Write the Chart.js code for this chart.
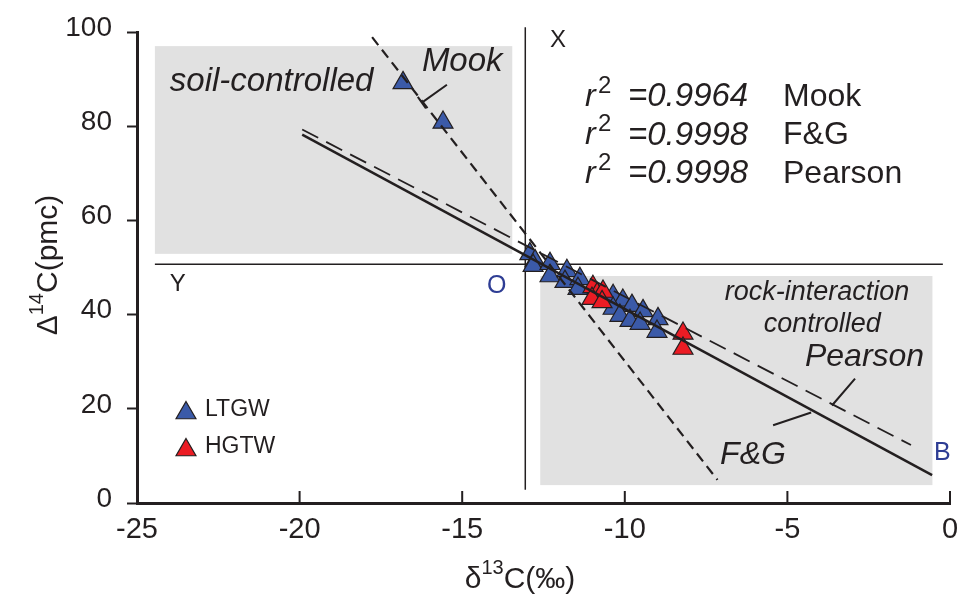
<!DOCTYPE html>
<html>
<head>
<meta charset="utf-8">
<script src="https://cdn.jsdelivr.net/npm/chart.js@4.4.0/dist/chart.umd.min.js"></script>
<style>
  html, body { margin: 0; padding: 0; background: #fff; }
  #wrap { width: 979px; height: 601px; }
</style>
</head>
<body>
<div id="wrap"><canvas id="chart" width="979" height="601"></canvas></div>
<script>
// Ejes
const xTicks = [-25, -20, -15, -10, -5, 0];
const yTicks = [0, 20, 40, 60, 80, 100];

// LTGW (azul)
const ltgwX = [-16.82, -15.59, -12.92, -12.76, -12.82, -12.30, -12.30, -11.78, -11.84, -11.38, -11.44,
               -10.36, -10.06, -10.36, -9.78, -9.44, -10.15, -9.84, -9.53, -8.98, -9.01];
const ltgwY = [89.2, 80.8, 52.9, 51.4, 50.4, 50.8, 48.2, 49.3, 47.0, 47.6, 45.5,
               44.0, 43.0, 41.3, 41.9, 40.8, 39.8, 38.7, 38.1, 39.1, 36.4];

// HGTW (rojo)
const hgtwX = [-10.98, -10.85, -10.67, -11.01, -10.70, -8.21, -8.21];
const hgtwY = [45.9, 44.4, 44.9, 43.4, 42.7, 36.0, 32.8];

// Rectas de los modelos
const mookX = [-17.77, -7.15];
const mookY = [98.9, 4.9];
const fgX = [-19.92, -0.55];
const fgY = [78.2, 5.9];
const pearsonX = [-19.92, -1.2];
const pearsonY = [79.3, 12.3];

// Textos de r2
const r2Values = ['=0.9964', '=0.9998', '=0.9998'];
const r2Models = ['Mook', 'F&G', 'Pearson'];

const INK = '#231f20';
const BLUE = '#3b5aa8';
const RED = '#ec1c24';
const NAVY = '#2e3d94';
const FONT = '"Liberation Sans", Arial, sans-serif';

const toPts = (xs, ys) => xs.map((x, i) => ({ x: x, y: ys[i] }));

function lineDs(xs, ys, dash, width) {
    return {
        type: 'line', data: toPts(xs, ys), borderColor: INK, borderWidth: width,
        borderDash: dash, pointRadius: 0, fill: false, order: 1, tension: 0
    };
}

function tri(ctx, cx, cy, r, fill) {
    ctx.beginPath();
    ctx.moveTo(cx, cy - r);
    ctx.lineTo(cx + r * 0.866, cy + r / 2);
    ctx.lineTo(cx - r * 0.866, cy + r / 2);
    ctx.closePath();
    ctx.fillStyle = fill; ctx.fill();
    ctx.lineWidth = 1.2; ctx.strokeStyle = INK; ctx.stroke();
}

function txt(ctx, s, x, y, font, color, align) {
    ctx.font = font;
    ctx.fillStyle = color || INK;
    ctx.textAlign = align || 'left';
    ctx.textBaseline = 'middle';
    ctx.fillText(s, x, y);
}

const decoPlugin = {
    id: 'deco',
    beforeDatasetsDraw(chart) {
        const ctx = chart.ctx, xs = chart.scales.x, ys = chart.scales.y;
        const px = v => xs.getPixelForValue(v), py = v => ys.getPixelForValue(v);
        ctx.save();
        // zonas grises
        ctx.fillStyle = '#e1e1e1';
        ctx.fillRect(px(-24.45), py(97.0), px(-13.46) - px(-24.45), py(52.9) - py(97.0));
        ctx.fillRect(px(-12.6), py(48.2), px(-0.54) - px(-12.6), py(3.8) - py(48.2));
        // ejes X / Y
        ctx.strokeStyle = INK; ctx.lineWidth = 1.5;
        ctx.beginPath();
        ctx.moveTo(px(-13.06), py(101)); ctx.lineTo(px(-13.06), py(2.8));
        ctx.moveTo(px(-24.45), py(50.7)); ctx.lineTo(px(-0.22), py(50.7));
        ctx.stroke();
        ctx.restore();
    },
    afterDatasetsDraw(chart) {
        const ctx = chart.ctx, xs = chart.scales.x, ys = chart.scales.y;
        const px = v => xs.getPixelForValue(v), py = v => ys.getPixelForValue(v);
        const area = chart.chartArea;
        ctx.save();

        // ticks hacia dentro en el eje x
        ctx.strokeStyle = INK; ctx.lineWidth = 2;
        ctx.beginPath();
        xTicks.forEach(v => { ctx.moveTo(px(v), area.bottom); ctx.lineTo(px(v), area.bottom - 12); });
        ctx.stroke();

        // lineas guia de las etiquetas
        ctx.lineWidth = 2;
        ctx.beginPath();
        const ax = px(-15.47), ay = py(88.8), bx = px(-16.24), by = py(85.0);
        ctx.moveTo(ax, ay); ctx.lineTo(bx, by);
        const dx = ax - bx, dy = ay - by, L = Math.hypot(dx, dy);
        ctx.moveTo(bx - dy / L * 7, by + dx / L * 7); ctx.lineTo(bx + dy / L * 7, by - dx / L * 7);
        ctx.moveTo(px(-2.92), py(26.4)); ctx.lineTo(px(-3.63), py(20.7));
        ctx.moveTo(px(-5.44), py(16.5)); ctx.lineTo(px(-4.27), py(19.2));
        ctx.stroke();

        // etiquetas
        txt(ctx, 'soil-controlled', px(-23.99), py(89.4), 'italic 33px ' + FONT);
        txt(ctx, 'Mook', px(-16.24), py(93.7), 'italic 33px ' + FONT);
        txt(ctx, 'X', px(-12.3), py(98.3), '24px ' + FONT);
        txt(ctx, 'Y', px(-23.99), py(46.5), '24px ' + FONT);
        txt(ctx, 'O', px(-14.24), py(46.1), '25px ' + FONT, NAVY);
        txt(ctx, 'B', px(-0.49), py(10.6), '25px ' + FONT, NAVY);
        txt(ctx, 'rock-interaction', px(-4.09), py(44.8), 'italic 27px ' + FONT, INK, 'center');
        txt(ctx, 'controlled', px(-3.93), py(38.0), 'italic 27px ' + FONT, INK, 'center');
        txt(ctx, 'Pearson', px(-4.46), py(30.9), 'italic 32px ' + FONT);
        txt(ctx, 'F&G', px(-7.07), py(10.1), 'italic 32px ' + FONT);

        // r2
        r2Values.forEach((val, i) => {
            const base = 97 + i * 38.5;
            txt(ctx, 'r', 585, base, 'italic 32px ' + FONT);
            txt(ctx, '2', 598, base - 11, '24px ' + FONT);
            txt(ctx, val, 628, base, 'italic 33px ' + FONT);
            txt(ctx, r2Models[i], 783, base, '32px ' + FONT);
        });

        // leyenda
        tri(ctx, 186, 413, 11.5, BLUE);
        txt(ctx, 'LTGW', 205, 410, '23px ' + FONT);
        tri(ctx, 186, 450, 11.5, RED);
        txt(ctx, 'HGTW', 205, 447, '23px ' + FONT);
        ctx.restore();
    },
    afterDraw(chart) {
        const ctx = chart.ctx;
        ctx.save();
        ctx.fillStyle = INK;
        ctx.textBaseline = 'alphabetic';
        // titulo eje x
        ctx.textAlign = 'left';
        ctx.font = '30px ' + FONT;
        const w1 = ctx.measureText('\u03b4').width;
        ctx.font = '20px ' + FONT;
        const w2 = ctx.measureText('13').width;
        ctx.font = '30px ' + FONT;
        const w3 = ctx.measureText('C(\u2030)').width;
        let x0 = 520 - (w1 + w2 + w3) / 2;
        ctx.fillText('\u03b4', x0, 588);
        ctx.font = '20px ' + FONT; ctx.fillText('13', x0 + w1, 574);
        ctx.font = '30px ' + FONT; ctx.fillText('C(\u2030)', x0 + w1 + w2, 588);
        // titulo eje y
        ctx.translate(57, 265);
        ctx.rotate(-Math.PI / 2);
        const v1 = ctx.measureText('\u0394').width;
        ctx.font = '20px ' + FONT;
        const v2 = ctx.measureText('14').width;
        ctx.font = '30px ' + FONT;
        const v3 = ctx.measureText('C(pmc)').width;
        x0 = -(v1 + v2 + v3) / 2;
        ctx.fillText('\u0394', x0, 0);
        ctx.font = '20px ' + FONT; ctx.fillText('14', x0 + v1, -14);
        ctx.font = '30px ' + FONT; ctx.fillText('C(pmc)', x0 + v1 + v2, 0);
        ctx.restore();
    }
};

new Chart(document.getElementById('chart'), {
    type: 'scatter',
    data: {
        datasets: [
            lineDs(mookX, mookY, [10, 6], 2.2),
            lineDs(fgX, fgY, [], 2.5),
            lineDs(pearsonX, pearsonY, [18, 9], 1.8),
            {
                label: 'HGTW', data: toPts(hgtwX, hgtwY), pointStyle: 'triangle', pointRadius: 11.5,
                pointHoverRadius: 11.5, backgroundColor: RED, borderColor: INK, borderWidth: 1.2, order: 2
            },
            {
                label: 'LTGW', data: toPts(ltgwX, ltgwY), pointStyle: 'triangle', pointRadius: 11.5,
                pointHoverRadius: 11.5, backgroundColor: BLUE, borderColor: INK, borderWidth: 1.2, order: 3
            }
        ]
    },
    options: {
        responsive: false,
        animation: false,
        devicePixelRatio: 1,
        layout: { padding: { top: 32, right: 29, left: 0, bottom: 0 } },
        plugins: { legend: { display: false }, tooltip: { enabled: false } },
        scales: {
            x: {
                type: 'linear', min: -25, max: 0,
                afterBuildTicks: s => { s.ticks = xTicks.map(v => ({ value: v })); },
                afterFit: s => { s.height = 98; },
                ticks: { font: { family: FONT, size: 29 }, color: INK, padding: 2 },
                grid: { display: false },
                border: { display: true, color: INK, width: 3 }
            },
            y: {
                type: 'linear', min: 0, max: 100,
                afterBuildTicks: s => { s.ticks = yTicks.map(v => ({ value: v })); },
                afterFit: s => { s.width = 137; },
                ticks: { font: { family: FONT, size: 28 }, color: INK, padding: 15, labelOffset: -4 },
                grid: { display: true, drawOnChartArea: false, drawTicks: true, tickLength: 10, tickWidth: 2, tickColor: INK },
                border: { display: true, color: INK, width: 3 }
            }
        }
    },
    plugins: [decoPlugin]
});
</script>
</body>
</html>
